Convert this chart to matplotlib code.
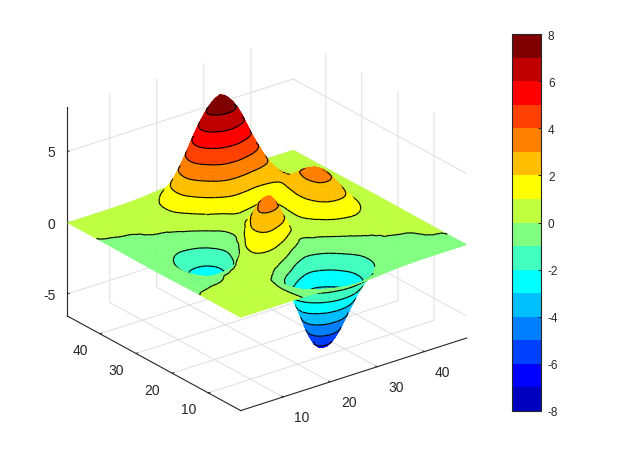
import numpy as np
import matplotlib
matplotlib.use("Agg")
import matplotlib.pyplot as plt
from matplotlib.colors import BoundaryNorm, ListedColormap
from matplotlib.cm import ScalarMappable
from mpl_toolkits.mplot3d.art3d import Poly3DCollection, Line3DCollection

plt.rcParams['font.family'] = ['Liberation Sans', 'DejaVu Sans']
plt.rcParams['axes.unicode_minus'] = False

#grid positions along both horizontal axes
grid_x = [1, 4, 7, 10, 13, 16, 19, 22, 25, 28, 31, 34, 37, 40, 43, 46, 49]
grid_y = [1, 4, 7, 10, 13, 16, 19, 22, 25, 28, 31, 34, 37, 40, 43, 46, 49]

#surface heights, one row per grid_y value
heights = [
    [0.00007, 0.0004, 0.0017, 0.0044, 0.0041, -0.015, -0.075, -0.17, -0.245, -0.24, -0.17, -0.08, -0.03, -0.008, -0.0013, -0.00014, -0.00001],
    [0.0002, 0.0014, 0.0055, 0.0128, 0.0034, -0.09, -0.35, -0.75, -1.06, -1.03, -0.71, -0.35, -0.12, -0.03, -0.0043, -0.0005, -0.00002],
    [0.0006, 0.0034, 0.0141, 0.0334, 0.0076, -0.25, -0.99, -2.14, -3.02, -2.96, -2.05, -1.00, -0.35, -0.08, -0.0126, -0.0009, 0.00005],
    [0.0008, 0.0057, 0.027, 0.079, 0.09, -0.27, -1.54, -3.69, -5.49, -5.51, -3.83, -1.83, -0.59, -0.12, -0.0092, 0.0021, 0.0008],
    [-0.0004, 0.002, 0.026, 0.127, 0.33, 0.34, -0.66, -3.09, -5.65, -6.16, -4.30, -1.88, -0.44, 0.01, 0.045, 0.017, 0.0035],
    [-0.0055, -0.0228, -0.05, 0.0103, 0.42, 1.28, 1.74, 0.43, -2.16, -3.48, -2.36, -0.47, 0.46, 0.44, 0.19, 0.05, 0.01],
    [-0.016, -0.08, -0.26, -0.49, -0.28, 1.09, 3.09, 3.44, 1.39, -0.36, 0.20, 1.56, 1.77, 1.08, 0.41, 0.11, 0.02],
    [-0.03, -0.15, -0.53, -1.24, -1.71, -0.66, 1.89, 3.25, 1.86, 0.42, 1.37, 2.92, 2.85, 1.65, 0.62, 0.16, 0.03],
    [-0.04, -0.19, -0.69, -1.73, -2.77, -2.30, 0.07, 1.78, 0.98, 0.13, 1.57, 3.38, 3.26, 1.87, 0.70, 0.18, 0.03],
    [-0.03, -0.17, -0.63, -1.62, -2.73, -2.63, -0.79, 0.77, 0.41, 0.003, 1.39, 2.95, 2.83, 1.62, 0.61, 0.16, 0.03],
    [-0.02, -0.11, -0.42, -1.07, -1.75, -1.55, -0.04, 1.39, 1.42, 1.08, 1.65, 2.31, 1.99, 1.10, 0.41, 0.10, 0.02],
    [-0.0101, -0.05, -0.18, -0.41, -0.43, 0.43, 2.43, 4.46, 5.08, 4.36, 3.33, 2.39, 1.44, 0.67, 0.23, 0.06, 0.0096],
    [-0.003, -0.0131, -0.03, 0.03, 0.47, 1.87, 4.36, 6.93, 7.96, 6.90, 4.70, 2.60, 1.18, 0.43, 0.12, 0.03, 0.0044],
    [-0.0003, 0.001, 0.0209, 0.15, 0.62, 1.83, 3.87, 5.98, 6.88, 5.97, 3.97, 2.04, 0.82, 0.26, 0.06, 0.0123, 0.0018],
    [0.0002, 0.0024, 0.0183, 0.10, 0.36, 1.01, 2.07, 3.17, 3.65, 3.17, 2.09, 1.05, 0.40, 0.12, 0.03, 0.0048, 0.0006],
    [0.0001, 0.0011, 0.0072, 0.04, 0.13, 0.35, 0.72, 1.10, 1.27, 1.10, 0.73, 0.36, 0.14, 0.04, 0.0093, 0.0015, 0.0002],
    [0.00003, 0.0003, 0.0018, 0.0087, 0.03, 0.08, 0.17, 0.26, 0.30, 0.26, 0.17, 0.08, 0.03, 0.0087, 0.0019, 0.0003, 0.00004],
]

levels = [-8, -7, -6, -5, -4, -3, -2, -1, 0, 1, 2, 3, 4, 5, 6, 7, 8]
band_colors = ['#0000BF', '#0000FF', '#0040FF', '#0080FF', '#00BFFF', '#00FFFF', '#40FFBF', '#80FF80',
               '#BFFF40', '#FFFF00', '#FFBF00', '#FF8000', '#FF4000', '#FF0000', '#BF0000', '#800000']
xy_ticks = [10, 20, 30, 40]
z_ticks = [-5, 0, 5]
bar_ticks = [-8, -6, -4, -2, 0, 2, 4, 6, 8]

z_low = -6.55
z_high = 8.1
elev = 24.75
azim = -127.5
box = (1, 1, 0.807)
text_color = '#262626'
mesh_steps = 3
chunk = 8
line_lift = 0.04
flat_scale = 0.002


def smooth_between(values):
    #drawing mesh only: a curve through the read values, so the bands do not show grid corners
    v = [2 * values[0] - values[1]] + list(values) + [2 * values[-1] - values[-2]]
    out = []
    for i in range(1, len(v) - 2):
        p0, p1, p2, p3 = v[i - 1], v[i], v[i + 1], v[i + 2]
        for k in range(mesh_steps):
            t = k / mesh_steps
            out.append(0.5 * (2 * p1 + (p2 - p0) * t + (2 * p0 - 5 * p1 + 4 * p2 - p3) * t ** 2
                              + (3 * p1 - p0 - 3 * p2 + p3) * t ** 3))
    out.append(values[-1])
    return out


def smooth_grid(table):
    rows = np.apply_along_axis(smooth_between, 1, table)
    return np.apply_along_axis(smooth_between, 0, rows)


def clip_tri(tri, lo, hi):
    #keep the part of a triangle with lo <= z <= hi
    poly = list(tri)
    for limit, sign in ((lo, 1), (hi, -1)):
        out = []
        for i in range(len(poly)):
            a = poly[i]
            b = poly[(i + 1) % len(poly)]
            da = (a[2] - limit) * sign
            db = (b[2] - limit) * sign
            if da >= 0:
                out.append(a)
            if da * db < 0:
                t = da / (da - db)
                out.append(tuple(a[k] + t * (b[k] - a[k]) for k in range(3)))
        poly = out
        if len(poly) == 0:
            break
    return poly


def level_segment(tri, level):
    #where a triangle crosses one height
    pts = []
    for i in range(3):
        a = tri[i]
        b = tri[(i + 1) % 3]
        if (a[2] - level) * (b[2] - level) < 0:
            t = (level - a[2]) / (b[2] - a[2])
            pts.append(tuple(a[k] + t * (b[k] - a[k]) for k in range(3)))
    return pts if len(pts) == 2 else None


fig = plt.figure(figsize=(6.19, 4.64), dpi=100)
ax = fig.add_axes([35.9 / 619, 9.2 / 464, 450 / 619, 450 / 464], projection='3d',
                  computed_zorder=False, proj_type='ortho')
ax.view_init(elev=elev, azim=azim)
ax.set_box_aspect(box)
ax.set_xlim(1, 49)
ax.set_ylim(1, 49)
ax.set_zlim(z_low, z_high)

#depth of a point along the viewing direction, larger is closer
view = (np.cos(np.radians(elev)) * np.cos(np.radians(azim)),
        np.cos(np.radians(elev)) * np.sin(np.radians(azim)),
        np.sin(np.radians(elev)))


def depth(tri):
    cx = np.mean([p[0] for p in tri])
    cy = np.mean([p[1] for p in tri])
    cz = np.mean([p[2] for p in tri])
    return (cx - 1) / 48 * box[0] * view[0] + (cy - 1) / 48 * box[1] * view[1] + (cz - z_low) / (z_high - z_low) * box[2] * view[2]


mesh_x = smooth_between(grid_x)
mesh_y = smooth_between(grid_y)
table = np.array(heights)
plain_z = smooth_grid(table)
#on the flat outer part the values are tiny, a curve through their arcsinh keeps the zero line calm
flat_z = flat_scale * np.sinh(smooth_grid(np.arcsinh(table / flat_scale)))
weight = np.clip(smooth_grid(np.abs(table)) / 0.5, 0, 1)
mesh_z = weight * plain_z + (1 - weight) * flat_z

triangles = []
for r in range(len(mesh_y) - 1):
    for c in range(len(mesh_x) - 1):
        p00 = (mesh_x[c], mesh_y[r], mesh_z[r][c])
        p10 = (mesh_x[c + 1], mesh_y[r], mesh_z[r][c + 1])
        p01 = (mesh_x[c], mesh_y[r + 1], mesh_z[r + 1][c])
        p11 = (mesh_x[c + 1], mesh_y[r + 1], mesh_z[r + 1][c + 1])
        triangles.append((p00, p10, p11))
        triangles.append((p00, p11, p01))

#back to front, a few triangles per collection
#lines go a little later than their own depth so the next triangles do not paint over them
triangles.sort(key=depth)
for start in range(0, len(triangles), chunk):
    polys = []
    colors = []
    segs = []
    group = triangles[start:start + chunk]
    for tri in group:
        for b in range(len(band_colors)):
            #the top band also takes the tip of the peak that rises above the last level
            upper = levels[b + 1] if b < len(band_colors) - 1 else z_high + 1
            part = clip_tri(tri, levels[b], upper)
            if len(part) >= 3:
                polys.append(part)
                colors.append(band_colors[b])
        for lev in levels:
            seg = level_segment(tri, lev)
            if seg is not None:
                segs.append(seg)
    order = 10 + depth(group[-1])
    ax.add_collection3d(Poly3DCollection(polys, facecolors=colors, edgecolors=colors, linewidths=0.4, zorder=order))
    if len(segs) > 0:
        ax.add_collection3d(Line3DCollection(segs, colors='k', linewidths=0.85, zorder=order + line_lift))

ax.set_xticks(xy_ticks)
ax.set_yticks(xy_ticks)
ax.set_zticks(z_ticks)
ax.tick_params(labelsize=10, colors=text_color)
ax.tick_params(axis='x', pad=2.5)
ax.tick_params(axis='y', pad=1)
ax.tick_params(axis='z', pad=-3)
plt.setp(ax.get_xticklabels(), ha='left', va='center_baseline')
plt.setp(ax.get_yticklabels(), ha='right', va='center_baseline')
plt.setp(ax.get_zticklabels(), ha='right', va='center_baseline')

for axis in (ax.xaxis, ax.yaxis, ax.zaxis):
    axis.set_pane_color((1, 1, 1, 1))
    axis.pane.set_edgecolor((1, 1, 1, 0))
    axis.line.set_color(text_color)
    axis.line.set_linewidth(0.8)
    axis._axinfo['grid']['color'] = '#DEDEDE'
    axis._axinfo['grid']['linewidth'] = 0.7
    axis._axinfo['tick']['color'] = text_color
    axis._axinfo['tick']['linewidth'] = {True: 0.7, False: 0.7}
    axis._axinfo['tick']['inward_factor'] = 0.0
    axis._axinfo['tick']['outward_factor'] = 0.1

#colour bar on the right
cax = fig.add_axes([511.5 / 619, (464 - 412) / 464, 29.5 / 619, 377 / 464])
norm = BoundaryNorm(levels, len(band_colors))
sm = ScalarMappable(norm=norm, cmap=ListedColormap(band_colors))
cb = fig.colorbar(sm, cax=cax, ticks=bar_ticks, spacing='proportional', drawedges=False)
cb.ax.tick_params(labelsize=8.5, direction='in', length=2.5, width=0.7, colors=text_color, pad=5)
cb.outline.set_edgecolor(text_color)
cb.outline.set_linewidth(0.8)
cb.ax.minorticks_off()

fig.savefig('out.png', dpi=100)
